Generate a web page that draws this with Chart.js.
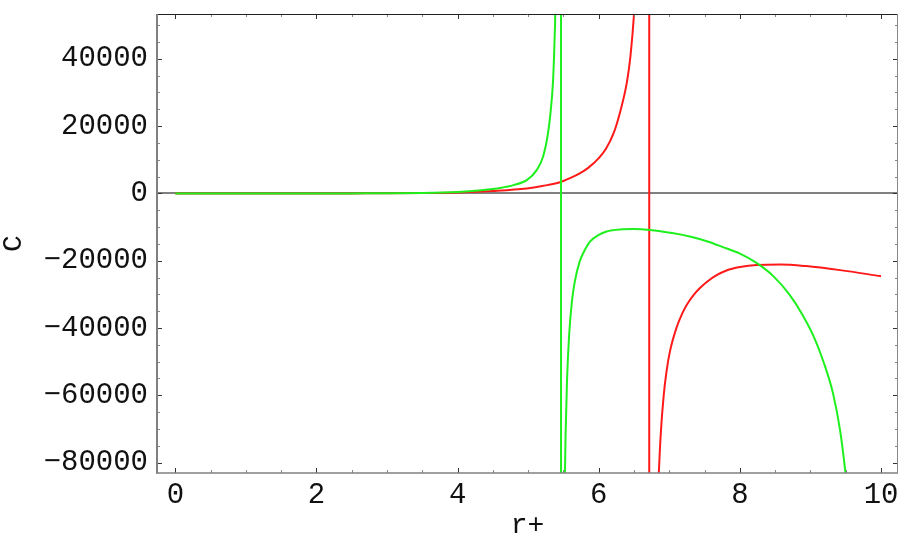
<!DOCTYPE html>
<html>
<head>
<meta charset="utf-8">
<script src="https://cdn.jsdelivr.net/npm/chart.js@4.4.1/dist/chart.umd.min.js"></script>
<style>
  html, body { margin: 0; padding: 0; background: #fff; }
  #wrap { width: 900px; height: 556px; }
</style>
</head>
<body>
<div id="wrap"><canvas id="c"></canvas></div>
<script>
// tick values
var xTicks = [0, 2, 4, 6, 8, 10];
var yTicks = [-80000, -60000, -40000, -20000, 0, 20000, 40000];

// green curve: positive branch, pole, negative branch
var greenUpX = [0, 0.5, 1, 1.5, 2, 2.5, 3, 3.5, 4, 4.3, 4.5, 4.6, 4.79, 4.98, 5.12, 5.21, 5.28, 5.32, 5.35, 5.365, 5.38, 5.40];
var greenUpY = [0, 0, 0, 0, 0, 10, 40, 150, 450, 850, 1300, 1600, 2470, 3960, 6930, 10900, 17800, 24800, 32700, 40000, 50000, 70000];
var greenPoleX = [5.465, 5.465];
var greenPoleY = [60000, -90000];
var greenDownX = [5.51, 5.52, 5.53, 5.55, 5.58, 5.62, 5.66, 5.73, 5.8, 5.875, 6.0, 6.11, 6.3, 6.49, 6.725, 7.06, 7.29, 7.53, 7.76, 8.0, 8.24, 8.47, 8.71, 8.89, 9.06, 9.18, 9.32, 9.42, 9.49, 9.53];
var greenDownY = [-95000, -83900, -71500, -55500, -42000, -32000, -26200, -20200, -16900, -14300, -12300, -11300, -10700, -10600, -10850, -11850, -12800, -14200, -15950, -17900, -20700, -24500, -30300, -36200, -43200, -49800, -59500, -70500, -82000, -90000];

// red curve: positive branch, pole, negative branch
var redUpX = [0, 0.5, 1, 1.5, 2, 2.5, 3, 3.5, 4, 4.5, 4.98, 5.2, 5.45, 5.6, 5.73, 5.85, 6.0, 6.1, 6.21, 6.30, 6.40, 6.45, 6.50, 6.53];
var redUpY = [0, 0, 0, 0, 0, 10, 30, 120, 300, 750, 1490, 2200, 3300, 4600, 5950, 7600, 10500, 13200, 17900, 24000, 33200, 41000, 53500, 65000];
var redPoleX = [6.715, 6.715];
var redPoleY = [60000, -90000];
var redDownX = [6.835, 6.85, 6.88, 6.92, 6.96, 7.01, 7.10, 7.18, 7.25, 7.34, 7.43, 7.53, 7.67, 7.81, 8.0, 8.24, 8.57, 8.94, 9.42, 10];
var redDownY = [-92500, -83600, -70900, -60000, -52900, -46800, -40000, -35800, -33000, -30300, -28200, -26300, -24300, -22900, -21900, -21250, -21100, -21600, -22800, -24600];

var GREEN = '#1ef01e', RED = '#ff1a1a';
var FONT = "'Liberation Mono', 'DejaVu Sans Mono', monospace";

function pts(xs, ys) {
  return xs.map(function(x, i) { return { x: x, y: ys[i] }; });
}
function line(xs, ys, color) {
  return { data: pts(xs, ys), borderColor: color, borderWidth: 2, pointRadius: 0, fill: false, cubicInterpolationMode: 'monotone' };
}

// frame with inward ticks on all four sides
var framePlugin = {
  id: 'frame',
  afterDraw: function(chart) {
    var ctx = chart.ctx, a = chart.chartArea;
    var xs = chart.scales.x, ys = chart.scales.y;
    ctx.save();
    ctx.lineCap = 'butt';
    function seg(x1, y1, x2, y2, col, w) {
      ctx.strokeStyle = col; ctx.lineWidth = w;
      ctx.beginPath(); ctx.moveTo(x1, y1); ctx.lineTo(x2, y2); ctx.stroke();
    }
    var v, p, major;
    for (v = 0; v <= 10.001; v += 0.5) {
      p = Math.round(xs.getPixelForValue(v)) + 0.5;
      major = Math.abs(v / 2 - Math.round(v / 2)) < 1e-6;
      seg(p, a.bottom, p, a.bottom - (major ? 5 : 3), major ? '#333' : '#888', 1);
      seg(p, a.top, p, a.top + (major ? 5 : 3), major ? '#333' : '#888', 1);
    }
    for (v = -80000; v <= 50000; v += 5000) {
      p = Math.round(ys.getPixelForValue(v)) + 0.5;
      major = v % 20000 === 0;
      seg(a.left, p, a.left + (major ? 5 : 3), p, major ? '#333' : '#888', 1);
      seg(a.right, p, a.right - (major ? 5 : 3), p, major ? '#333' : '#888', 1);
    }
    seg(a.left, a.top + 0.5, a.right, a.top + 0.5, '#222', 1);
    seg(a.right - 0.5, a.top, a.right - 0.5, a.bottom, '#888', 1);
    seg(a.left, a.bottom, a.right, a.bottom, '#808080', 1.5);
    seg(a.left, a.top, a.left, a.bottom + 0.75, '#808080', 2);
    ctx.restore();
  }
};

function noPad(s) {
  s.paddingTop = 0; s.paddingBottom = 0; s.paddingLeft = 0; s.paddingRight = 0;
}

new Chart(document.getElementById('c'), {
  type: 'line',
  data: {
    datasets: [
      line(greenUpX, greenUpY, GREEN),
      line(greenPoleX, greenPoleY, GREEN),
      line(greenDownX, greenDownY, GREEN),
      line(redUpX, redUpY, RED),
      line(redPoleX, redPoleY, RED),
      line(redDownX, redDownY, RED)
    ]
  },
  options: {
    responsive: true, maintainAspectRatio: false, animation: false,
    layout: { padding: { top: 14, right: 2, left: 0, bottom: 0 } },
    plugins: { legend: { display: false }, tooltip: { enabled: false } },
    scales: {
      x: {
        type: 'linear', min: -0.26, max: 10.24,
        afterFit: function(s) { s.height = 83; noPad(s); },
        afterBuildTicks: function(s) { s.ticks = xTicks.map(function(v) { return { value: v }; }); },
        grid: { display: false, drawTicks: false },
        border: { display: false },
        ticks: { color: '#111', padding: 8, maxRotation: 0, font: { family: FONT, size: 29, lineHeight: 1 } },
        title: { display: true, text: 'r+', color: '#111', padding: { top: 0, bottom: 16 }, font: { family: FONT, size: 28, lineHeight: 1 } }
      },
      y: {
        type: 'linear', min: -83090, max: 53320,
        afterFit: function(s) { s.width = 157; noPad(s); },
        afterBuildTicks: function(s) { s.ticks = yTicks.map(function(v) { return { value: v }; }); },
        grid: {
          drawTicks: false,
          color: function(c) { return c.tick && c.tick.value === 0 ? '#808080' : 'rgba(0,0,0,0)'; },
          lineWidth: 2
        },
        border: { display: false },
        ticks: {
          color: '#111', padding: 9, font: { family: FONT, size: 29, lineHeight: 1 },
          callback: function(v) { return v < 0 ? '\u2212' + Math.abs(v) : String(v); }
        },
        title: { display: true, text: 'C', color: '#111', padding: { top: 0, bottom: 0 }, font: { family: FONT, size: 28, lineHeight: 1 } }
      }
    }
  },
  plugins: [framePlugin]
});
</script>
</body>
</html>
